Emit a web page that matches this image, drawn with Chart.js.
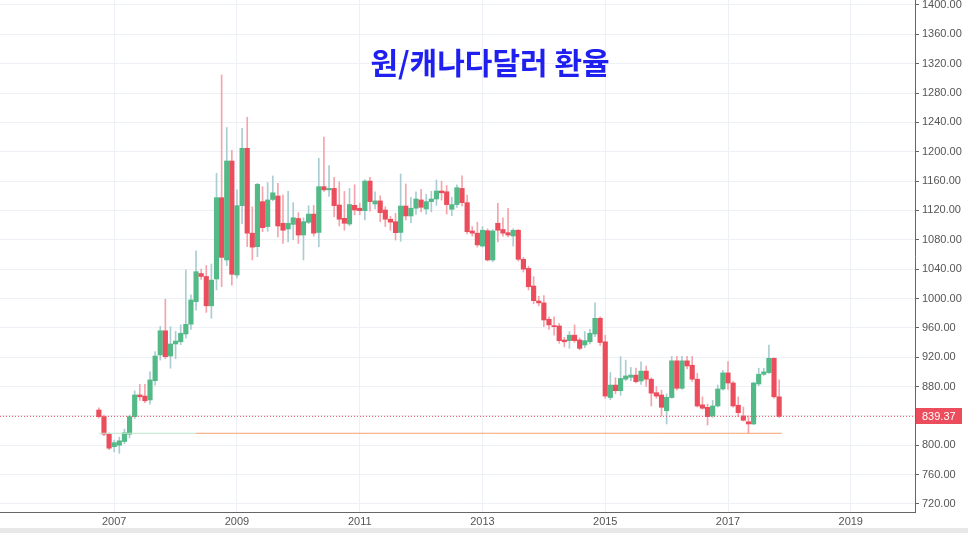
<!DOCTYPE html>
<html>
<head>
<meta charset="utf-8">
<script src="https://cdn.jsdelivr.net/npm/chart.js@4"></script>
<style>
  html, body { margin: 0; padding: 0; background: #e8e8e8; }
  #wrap { width: 968px; height: 528px; background: #fff; }
</style>
</head>
<body>
<div id="wrap"><canvas id="chart" width="968" height="528"></canvas></div>
<script>
// monthly candles, first one is Oct 2006 (month index -3 counted from Jan 2007)
const firstMonth = -3;
const open = [
  848, 839, 815,
  798, 800, 805, 815, 839, 868.5, 867, 861.7, 888, 923, 956, 921.6,
  938, 941, 951.6, 965, 995.6, 1034, 1030, 990, 1026.6, 1137.4, 1052.5, 1187.4,
  1032, 1126.5, 1204.7, 1089, 1070.6, 1132, 1098, 1135, 1139.7, 1102.5, 1094.7, 1101,
  1109, 1086.5, 1103.8, 1115, 1090, 1152.4, 1148, 1150, 1127.4, 1109.3, 1101.5, 1127,
  1123, 1119.7, 1160, 1128.8, 1133, 1120.6, 1108, 1104.7, 1090, 1126, 1112.5, 1123,
  1134.3, 1122, 1132, 1135.6, 1146.5, 1145.5, 1121.6, 1128, 1150, 1130.6, 1092, 1089,
  1071.5, 1092.4, 1052.5, 1102.5, 1094, 1089.7, 1085.2, 1093, 1053.4, 1041, 1017, 996.6,
  994, 971.6, 963, 962.5, 943.4, 942.5, 950, 943.4, 936.6, 941, 951.6, 973,
  941, 865, 882, 874.3, 890, 892.6, 895.6, 887.6, 901, 890, 871.6, 868.5,
  847, 865, 915, 877.6, 915, 909, 890, 855, 851.7, 840, 853.5, 876.7,
  898.6, 884.8, 854.5, 839.9, 832, 829, 883.5, 896.7, 899, 918.5, 866
];
const high = [
  851, 841, 817,
  807, 811, 822, 841, 874, 883, 883, 900, 927.5, 962, 999, 961.6,
  955, 964, 1039, 1005, 1065, 1040, 1045, 1047, 1170.6, 1304.6, 1233, 1202,
  1148, 1232, 1247, 1125, 1157, 1152.4, 1158, 1167, 1157, 1141, 1146, 1130.6,
  1117, 1110, 1126.5, 1127, 1191, 1220, 1181, 1165, 1159, 1146, 1150, 1155,
  1130, 1162, 1165, 1145.5, 1140, 1125, 1112, 1116, 1169.7, 1156, 1138, 1145.5,
  1148.6, 1142, 1146, 1161.5, 1160, 1154, 1138, 1155, 1167, 1141, 1098, 1104,
  1098, 1095, 1094, 1129.6, 1110, 1122.8, 1095, 1094, 1056, 1044, 1029.7, 1003,
  1004, 975, 975, 966, 947, 955, 964, 946, 955, 958, 994, 975,
  950, 899, 892, 920.7, 916, 906, 905, 913.7, 908, 892, 880, 875,
  870, 921, 921, 921, 921, 921, 898, 866, 856, 861, 882, 902,
  914, 887, 866, 852, 840, 886, 905, 905, 936.6, 919, 889
];
const low = [
  837, 813, 794,
  791, 789, 802, 810, 836, 861, 858, 856, 882, 916, 918, 905,
  918, 937, 946, 958, 984, 1026, 981, 973, 1011.6, 1016, 1045, 1018,
  1028, 1102, 1070.6, 1052.5, 1057, 1091, 1091.5, 1133, 1084, 1075, 1077, 1080,
  1075, 1052.5, 1102, 1085, 1070.6, 1146, 1139, 1111.5, 1098.8, 1093, 1099, 1114,
  1114, 1107, 1119, 1122, 1104.6, 1098, 1093, 1079.7, 1078, 1107, 1103.3, 1114.7,
  1118, 1115, 1118, 1127, 1134, 1115, 1113, 1124, 1126, 1088, 1085, 1070,
  1070, 1051, 1050, 1077, 1085, 1084, 1071.5, 1051, 1036, 1011.6, 993, 990,
  961.6, 958, 950, 939, 934, 932, 940, 930, 933, 938, 948, 936,
  864, 862, 870, 868, 888, 888, 885, 883, 880, 853.5, 864, 839.9,
  829, 864, 875, 876, 904, 887, 852, 849, 827.6, 838, 852, 875,
  876, 852, 839, 833, 816.3, 828, 881, 895, 898, 864, 838
];
const close = [
  839, 815, 796,
  803.5, 806, 817, 839, 868.5, 866, 860.6, 889, 921.6, 956, 920.7, 938,
  942, 952.6, 964.8, 998, 1036.5, 1030, 990, 1025, 1137.4, 1056, 1187.4, 1033,
  1126.5, 1204.7, 1089, 1070, 1155.6, 1096.5, 1134.3, 1144, 1098.8, 1093, 1102.5, 1110,
  1086.5, 1104.7, 1115, 1089, 1152.4, 1148, 1150, 1126.5, 1108, 1102.5, 1128, 1120.6,
  1119.7, 1160, 1132, 1133, 1117, 1108, 1104, 1089.7, 1126, 1112.5, 1123, 1135.6,
  1124.3, 1132, 1135.6, 1146.5, 1144, 1128, 1128, 1151, 1130.6, 1091, 1089, 1073,
  1093, 1052.5, 1092, 1093, 1089, 1086.5, 1093, 1053.4, 1040, 1016, 997, 994,
  970.7, 964, 961.6, 942.5, 941, 950, 942.5, 932, 942.5, 952.6, 973, 940,
  867, 882, 874.3, 891, 894.4, 895.6, 886.6, 901, 890, 871, 867, 851.7,
  865.3, 915, 877.6, 915, 908, 890, 853.5, 850.4, 839, 853.5, 876.7, 898.6,
  884.8, 853.5, 844.4, 834, 829, 884.8, 896.7, 900, 918.5, 866, 839.37
];

const yTicks = [720, 760, 800, 840, 880, 920, 960, 1000, 1040, 1080, 1120, 1160, 1200, 1240, 1280, 1320, 1360, 1400];
const yearTicks = [0, 24, 48, 72, 96, 120, 144];
const yearLabels = ['2007', '2009', '2011', '2013', '2015', '2017', '2019'];
const titleText = '원/캐나다달러 환율';
const lowLine = 816.3;

const upColor = '#53b987';
const downColor = '#eb4d5c';
const upWick = '#a9cdd3';
const downWick = '#f5a4ac';

const xMin = -22.33, xMax = 156.56;
const last = close[close.length - 1];

const bodies = [], wicks = [], bodyColors = [], wickColors = [];
for (let i = 0; i < open.length; i++) {
  const m = firstMonth + i;
  const up = close[i] >= open[i];
  bodies.push({ x: m, y: [open[i], close[i]] });
  wicks.push({ x: m, y: [low[i], high[i]] });
  bodyColors.push(up ? upColor : downColor);
  wickColors.push(up ? upWick : downWick);
}

const titlePlugin = {
  id: 'titleText',
  afterDraw(chart) {
    const ctx = chart.ctx;
    ctx.save();
    ctx.font = 'bold 30px "Noto Sans CJK KR"';
    ctx.fillStyle = '#1f1ff0';
    ctx.textAlign = 'center';
    ctx.textBaseline = 'middle';
    ctx.fillText(titleText, 490, 63);

    // last price tag on the right axis
    const y = chart.scales.y.getPixelForValue(last);
    const left = chart.chartArea.right + 1;
    ctx.fillStyle = '#eb4d5c';
    ctx.fillRect(left, Math.round(y) - 8, 46, 16);
    ctx.fillStyle = '#fff';
    ctx.font = '11px "Liberation Sans", Arial';
    ctx.textAlign = 'left';
    ctx.fillText(last.toFixed(2), left + 6, y + 0.5);
    ctx.restore();
  }
};

new Chart(document.getElementById('chart'), {
  type: 'bar',
  data: {
    datasets: [
      {
        type: 'line',
        data: [{ x: firstMonth, y: lowLine }, { x: 16, y: lowLine }],
        borderColor: '#bfe8cf', borderWidth: 1, pointRadius: 0, order: 0
      },
      {
        type: 'line',
        data: [{ x: 16, y: lowLine }, { x: 130.5, y: lowLine }],
        borderColor: '#f4a070', borderWidth: 1, pointRadius: 0, order: 0
      },
      {
        type: 'line',
        data: [{ x: xMin, y: last }, { x: xMax, y: last }],
        borderColor: '#eb4d5c', borderWidth: 1, borderDash: [1, 2], pointRadius: 0, order: 0
      },
      {
        data: bodies,
        backgroundColor: bodyColors,
        barThickness: 4.5,
        minBarLength: 1,
        grouped: false,
        order: 1
      },
      {
        data: wicks,
        backgroundColor: wickColors,
        barThickness: 1,
        grouped: false,
        order: 2
      }
    ]
  },
  options: {
    responsive: false,
    animation: false,
    layout: { padding: 0 },
    plugins: { legend: { display: false }, tooltip: { enabled: false } },
    scales: {
      x: {
        type: 'linear',
        min: xMin,
        max: xMax,
        offset: false,
        afterBuildTicks: axis => { axis.ticks = yearTicks.map(v => ({ value: v })); },
        afterFit: axis => { axis.height = 16; axis.paddingLeft = 0; axis.paddingRight = 0; },
        ticks: {
          autoSkip: false,
          maxRotation: 0,
          padding: 3,
          color: '#555',
          font: { family: '"Liberation Sans", Arial', size: 11 },
          callback: (v, i) => yearLabels[i]
        },
        grid: { color: '#edf1f5', offset: false, drawTicks: false },
        border: { display: true, color: '#666' }
      },
      y: {
        position: 'right',
        min: 709,
        max: 1406.8,
        afterBuildTicks: axis => { axis.ticks = yTicks.map(v => ({ value: v })); },
        afterFit: axis => { axis.width = 53; axis.paddingTop = 0; axis.paddingBottom = 0; },
        ticks: {
          padding: 3,
          color: '#555',
          font: { family: '"Liberation Sans", Arial', size: 11 },
          callback: v => v.toFixed(2)
        },
        grid: { color: '#edf1f5', tickColor: '#666', tickLength: 4 },
        border: { display: true, color: '#666' }
      }
    }
  },
  plugins: [titlePlugin]
});
</script>
</body>
</html>
